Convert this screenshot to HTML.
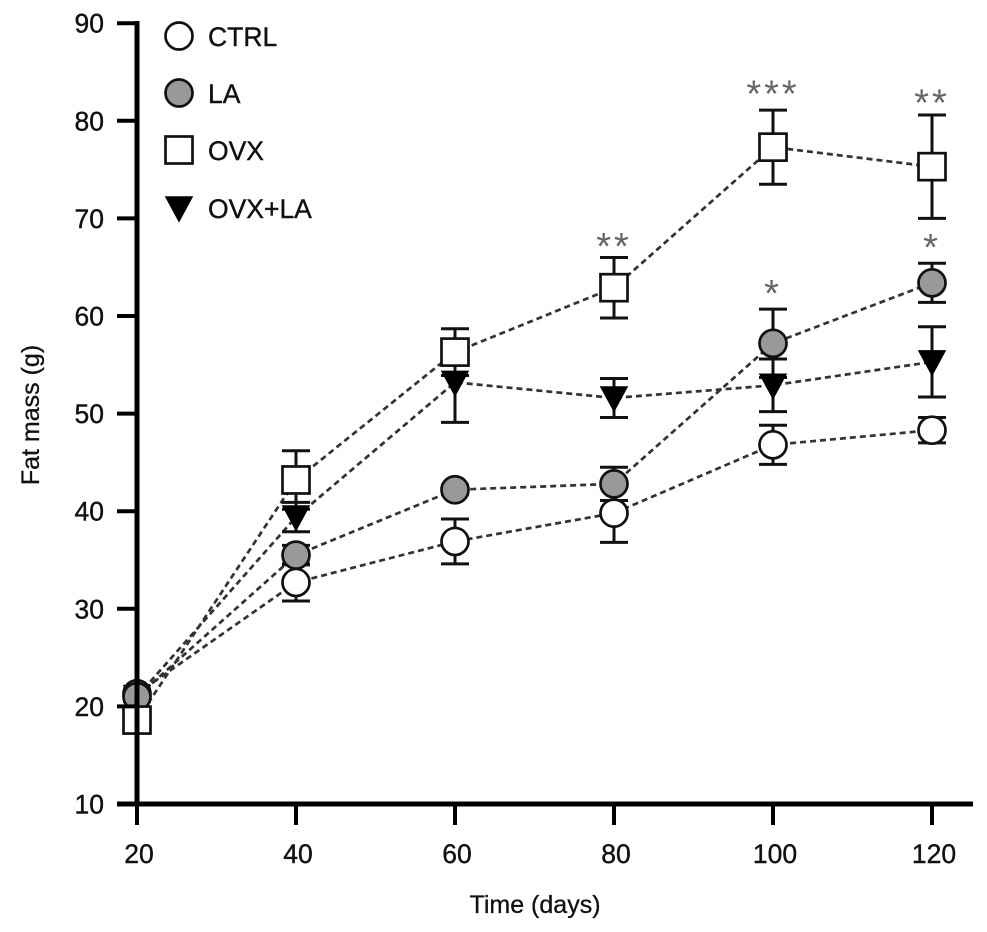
<!DOCTYPE html>
<html><head><meta charset="utf-8"><style>
html,body{margin:0;padding:0;background:#fff;}
svg{display:block;font-family:"Liberation Sans",Arial,sans-serif;}
</style></head><body>
<svg id="chart" width="987" height="932" viewBox="0 0 987 932">
<g id="lines"></g>
<g id="errs"></g>
<g id="marks"></g>
<g id="axes"></g>
<g id="stars"></g>
<g id="legend"></g>
</svg>
<script>
const days = [20, 40, 60, 80, 100, 120];
const xTicks = [20, 40, 60, 80, 100, 120];
const yTicks = [10, 20, 30, 40, 50, 60, 70, 80, 90];
const ctrlVals = [21.3, 32.7, 36.9, 39.8, 46.8, 48.3];
const ctrlErr = [0.5, 1.9, 2.3, 3.0, 2.0, 1.3];
const laVals = [21.0, 35.5, 42.2, 42.8, 57.2, 63.4];
const laErr = [0.5, 1.0, 0.5, 1.7, 3.5, 2.0];
const ovxVals = [18.6, 43.2, 56.3, 62.9, 77.3, 75.3];
const ovxErr = [0.5, 3.0, 2.4, 3.1, 3.8, 5.3];
const ovxlaVals = [21.0, 39.4, 53.2, 51.6, 52.9, 55.3];
const ovxlaErr = [0.5, 1.5, 4.1, 2.0, 2.7, 3.6];
const starDays = [80, 100, 100, 120, 120];
const starVals = [68.1, 83.7, 63.3, 68.0, 82.8];
const starText = ["**", "***", "*", "*", "**"];

const NS = "http://www.w3.org/2000/svg";
function X(d){ return 137 + (d - 20) * 7.95; }
function Y(v){ return 804 - (v - 10) * 9.76; }
function mk(tag, attrs, parent){
  const e = document.createElementNS(NS, tag);
  for (const k in attrs) e.setAttribute(k, attrs[k]);
  parent.appendChild(e); return e;
}
const gL = document.getElementById('lines'), gE = document.getElementById('errs'),
      gM = document.getElementById('marks'), gA = document.getElementById('axes'),
      gS = document.getElementById('stars'), gLeg = document.getElementById('legend');

function marker(kind, cx, cy, parent){
  let e;
  if (kind === 'circle-open' || kind === 'circle-gray') {
    e = mk('circle', {cx: cx, cy: cy, r: 13.5, fill: kind === 'circle-gray' ? '#999' : '#fff', stroke: '#111', 'stroke-width': 2.7}, parent);
  } else if (kind === 'square') {
    e = mk('rect', {x: cx - 13.5, y: cy - 13.5, width: 27, height: 27, fill: '#fff', stroke: '#111', 'stroke-width': 2.7}, parent);
  } else {
    e = mk('path', {d: `M${cx-13},${cy-11} L${cx+13},${cy-11} L${cx},${cy+13} Z`, fill: '#000', stroke: '#000', 'stroke-width': 1.5}, parent);
  }
  return e;
}

const series = [
  {name: 'ovxla', vals: ovxlaVals, err: ovxlaErr, kind: 'tri'},
  {name: 'ctrl', vals: ctrlVals, err: ctrlErr, kind: 'circle-open'},
  {name: 'la', vals: laVals, err: laErr, kind: 'circle-gray'},
  {name: 'ovx', vals: ovxVals, err: ovxErr, kind: 'square'}
];
series.forEach(s => {
  const pts = s.vals.map((v, i) => X(days[i]) + ',' + Y(v)).join(' ');
  const pl = mk('polyline', {points: pts, fill: 'none', stroke: '#333', 'stroke-width': 2.7, 'stroke-dasharray': '6,4'}, gL);
  
  
  s.vals.forEach((v, i) => {
    const x = X(days[i]), y1 = Y(v + s.err[i]), y2 = Y(v - s.err[i]);
    const g = mk('g', {}, gE);
    
    
    mk('line', {x1: x, x2: x, y1: y1, y2: y2, stroke: '#111', 'stroke-width': 3}, g);
    mk('line', {x1: x - 14, x2: x + 14, y1: y1, y2: y1, stroke: '#111', 'stroke-width': 3}, g);
    mk('line', {x1: x - 14, x2: x + 14, y1: y2, y2: y2, stroke: '#111', 'stroke-width': 3}, g);
  });
});
series.forEach(s => {
  s.vals.forEach((v, i) => {
    const m = marker(s.kind, X(days[i]), Y(v), gM);
    
    
  });
});

// axes
const ya = mk('line', {x1: 137, x2: 137, y1: 21, y2: 806, stroke: '#000', 'stroke-width': 5}, gA);


const xa = mk('line', {x1: 117, x2: 973, y1: 804, y2: 804, stroke: '#000', 'stroke-width': 5}, gA);


yTicks.forEach(t => {
  mk('line', {x1: 117, x2: 137, y1: Y(t), y2: Y(t), stroke: '#000', 'stroke-width': 4}, gA);
  const tx = mk('text', {x: 104, y: Y(t) + 9.5, 'text-anchor': 'end', 'font-size': 26.5, fill: '#111', stroke: '#111', 'stroke-width': 0.4}, gA);
  tx.textContent = t;
  
  
});
xTicks.forEach(t => {
  mk('line', {x1: X(t), x2: X(t), y1: 804, y2: 825, stroke: '#000', 'stroke-width': 4}, gA);
  const tx = mk('text', {x: X(t) + 2, y: 863, 'text-anchor': 'middle', 'font-size': 26.5, fill: '#111', stroke: '#111', 'stroke-width': 0.4}, gA);
  tx.textContent = t;
  
  
});
const yt = mk('text', {x: 0, y: 0, transform: 'translate(39,415) rotate(-90)', 'text-anchor': 'middle', 'font-size': 25, fill: '#111', stroke: '#111', 'stroke-width': 0.3}, gA);
yt.textContent = 'Fat mass (g)';


const xt = mk('text', {x: 535, y: 913, 'text-anchor': 'middle', 'font-size': 25, fill: '#111', stroke: '#111', 'stroke-width': 0.3}, gA);
xt.textContent = 'Time (days)';



// stars
starDays.forEach((d, i) => {
  const t = mk('text', {x: X(d), y: Y(starVals[i]) + 22, 'text-anchor': 'middle', 'font-size': 38, fill: '#666', 'letter-spacing': 3}, gS);
  t.textContent = starText[i];
  
  
});

// legend
const legItems = [['CTRL', 'circle-open', 36], ['LA', 'circle-gray', 93], ['OVX', 'square', 150], ['OVX+LA', 'tri', 208]];
legItems.forEach(li => {
  const g = mk('g', {}, gLeg);
  
  
  marker(li[1], 179, li[2], g);
  const t = mk('text', {x: 208, y: li[2] + 10, 'font-size': 26.5, fill: '#111', stroke: '#111', 'stroke-width': 0.4}, g);
  t.textContent = li[0];
});
</script>
</body></html>
